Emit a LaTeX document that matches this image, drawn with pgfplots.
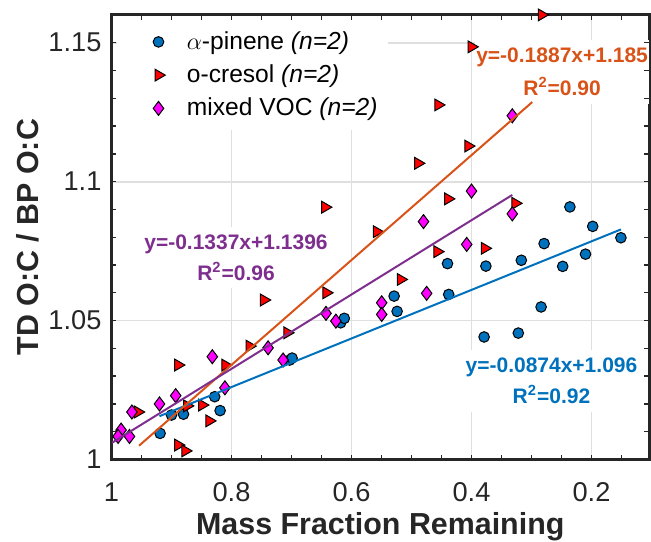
\documentclass[border=0pt]{standalone}
\usepackage{fontspec}
\setmainfont{Liberation Sans}
\usepackage{pgfplots}
\pgfplotsset{compat=1.18}
\definecolor{mblue}{HTML}{0072BD}
\definecolor{morange}{HTML}{D95319}
\definecolor{mpurple}{HTML}{7E2F8E}
\definecolor{mred}{RGB}{255,0,0}
\definecolor{mmag}{RGB}{255,0,255}
\definecolor{axgrey}{HTML}{262626}
\definecolor{gridgrey}{HTML}{DFDFDF}

\begin{document}
\begin{tikzpicture}
\path[use as bounding box] (-55.75pt,-40.75pt) rectangle (269.75pt,229.75pt);
\begin{axis}[
  scale only axis, width=268.8pt, height=222.3pt,
  x dir=reverse, xmin=0.104, xmax=1, ymin=1, ymax=1.16,
  xtick={0.2,0.4,0.6,0.8,1}, ytick={1,1.05,1.1,1.15},
  minor xtick={0.15,0.25,0.3,0.35,0.45,0.5,0.55,0.65,0.7,0.75,0.85,0.9,0.95},
  minor ytick={1.01,1.02,1.03,1.04,1.06,1.07,1.08,1.09,1.11,1.12,1.13,1.14},
  tick align=inside, major tick length=2.5pt, minor tick length=2.5pt,
  tick style={axgrey, line width=0.7pt},
  axis line style={axgrey, line width=1.5pt},
  grid=major, major grid style={gridgrey, line width=0.9pt},
  /pgf/number format/assume math mode=true,
  tick label style={font=\fontsize{13.6}{16}\selectfont, text=axgrey},
  xticklabel style={yshift=-8pt},
  yticklabel style={xshift=-1.5pt},
  xlabel={Mass Fraction Remaining},
  ylabel={TD O:C / BP O:C},
  every axis x label/.style={at={(axis description cs:0.5,-0.152)}, anchor=center,
    font=\fontsize{15.2}{18}\selectfont\bfseries, text=axgrey},
  every axis y label/.style={at={(axis description cs:-0.155,0.5)}, anchor=center, rotate=90,
    font=\fontsize{15.2}{18}\selectfont\bfseries, text=axgrey},
  clip mode=individual,
  legend cell align=left,
  legend image code/.code={\path (-17.5pt,0pt) (12pt,0pt); \draw[#1] plot coordinates {(0pt,0pt)};},
  legend style={at={(axis description cs:0,1)}, anchor=north west,
    xshift=2.6pt, yshift=-2.6pt, draw=none, fill=white,
    inner xsep=3pt, inner ysep=3.5pt, row sep=2.2pt,
    font=\fontsize{12.3}{14}\selectfont,
    nodes={inner sep=2pt, text depth=0.15em}},
]
% equation boxes first, so the points sit on top of them
\node[fill=white, text=morange, align=center, inner xsep=0.5pt, inner ysep=4pt,
  font=\fontsize{10.5}{16.5}\selectfont\bfseries] at (axis cs:0.249,1.1396)
  {y=-0.1887x+1.185\\R\textsuperscript{2}=0.90};
\node[fill=white, text=mpurple, align=center, inner xsep=0.5pt, inner ysep=4pt,
  font=\fontsize{10.5}{15.5}\selectfont\bfseries] at (axis cs:0.7925,1.0727)
  {y=-0.1337x+1.1396\\R\textsuperscript{2}=0.96};
\node[fill=white, text=mblue, align=center, inner xsep=0.5pt, inner ysep=4pt,
  font=\fontsize{10.5}{15.8}\selectfont\bfseries] at (axis cs:0.2667,1.0283)
  {y=-0.0874x+1.096\\R\textsuperscript{2}=0.92};
% right-hand ticks hidden by the orange box
\draw[axgrey, line width=0.7pt] (axis cs:0.104,1.13) -- (axis cs:0.1123,1.13)
  (axis cs:0.104,1.14) -- (axis cs:0.1123,1.14)
  (axis cs:0.104,1.15) -- (axis cs:0.1123,1.15);

% alpha-pinene
\addplot[only marks, mark=*, mark size=2.65pt,
  mark options={fill=mblue, draw=black, line width=0.5pt}] coordinates {
  (0.919,1.0094) (0.900,1.0160) (0.880,1.0163) (0.828,1.0226) (0.819,1.0176)
  (0.703,1.0358) (0.699,1.0365) (0.618,1.0492) (0.612,1.0508) (0.529,1.0588)
  (0.524,1.0533) (0.440,1.0705) (0.438,1.0594) (0.379,1.0441) (0.376,1.0696)
  (0.322,1.0455) (0.317,1.0717) (0.284,1.0549) (0.279,1.0777) (0.248,1.0695)
  (0.236,1.0909) (0.210,1.0739) (0.198,1.0839) (0.151,1.0798)};
\addlegendentry{$\alpha$-pinene \textit{(n=2)}}
% o-cresol
\addplot[only marks, mark=triangle*, mark size=3.4pt,
  mark options={fill=mred, draw=black, line width=0.5pt, rotate=-90}] coordinates {
  (0.956,1.0171) (0.889,1.0340) (0.889,1.0052) (0.877,1.0031) (0.874,1.0193)
  (0.849,1.0196) (0.837,1.0139) (0.8105,1.0340) (0.770,1.0408) (0.746,1.0574)
  (0.707,1.0456) (0.642,1.0600) (0.644,1.0908) (0.558,1.0820) (0.518,1.0648)
  (0.489,1.1066) (0.457,1.0748) (0.439,1.0938) (0.4555,1.1276) (0.4055,1.1128)
  (0.400,1.1485) (0.378,1.0760) (0.327,1.0922) (0.283,1.1600)};
\addlegendentry{o-cresol \textit{(n=2)}}
% mixed VOC
\addplot[only marks, mark=diamond*, mark size=3.5pt,
  mark options={fill=mmag, draw=black, line width=0.5pt}] coordinates {
  (0.984,1.0106) (0.989,1.0083) (0.970,1.0083) (0.966,1.0171) (0.920,1.0200)
  (0.893,1.0230) (0.832,1.0370) (0.811,1.0258) (0.739,1.0402) (0.714,1.0358)
  (0.6425,1.0526) (0.626,1.0498) (0.5497,1.0564) (0.5497,1.0522) (0.480,1.0856)
  (0.4747,1.0598) (0.408,1.0774) (0.400,1.0966) (0.332,1.0884) (0.332,1.1237)};
\addlegendentry{mixed VOC \textit{(n=2)}}
% linear fits
\addplot[mblue, line width=1pt, forget plot] coordinates {(0.92,1.01559) (0.151,1.08280)};
\addplot[morange, line width=1pt, forget plot] coordinates {(0.954,1.00498) (0.2987,1.12864)};
\addplot[mpurple, line width=1pt, forget plot] coordinates {(0.999,1.00603) (0.332,1.09521)};
\end{axis}
\end{tikzpicture}
\end{document}
